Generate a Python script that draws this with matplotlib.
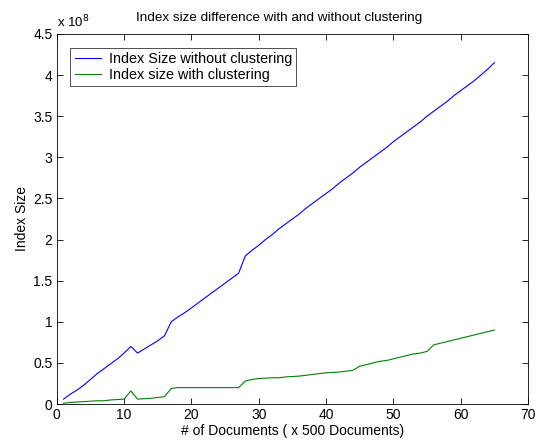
import numpy as np
import matplotlib
matplotlib.use('Agg')
import matplotlib.pyplot as plt
from matplotlib.ticker import FuncFormatter

# number of documents (x 500)
docs = np.arange(1, 66)

# index size in units of 1e8
size_no_clust = [0.06, 0.12, 0.17, 0.23, 0.30, 0.37, 0.43, 0.49, 0.55, 0.62,
                 0.70, 0.62, 0.67, 0.72, 0.77, 0.83, 1.00, 1.06, 1.11, 1.17,
                 1.23, 1.29, 1.35, 1.41, 1.47, 1.53, 1.59, 1.80, 1.87, 1.93,
                 2.00, 2.06, 2.13, 2.19, 2.25, 2.31, 2.38, 2.44, 2.50, 2.56,
                 2.62, 2.69, 2.75, 2.81, 2.88, 2.94, 3.00, 3.06, 3.12, 3.19,
                 3.25, 3.31, 3.37, 3.43, 3.50, 3.56, 3.62, 3.68, 3.75, 3.81,
                 3.87, 3.93, 4.00, 4.07, 4.15]
size_clust = [0.01, 0.02, 0.025, 0.03, 0.035, 0.04, 0.04, 0.05, 0.055, 0.06,
              0.16, 0.06, 0.065, 0.07, 0.08, 0.09, 0.19, 0.20, 0.20, 0.20,
              0.20, 0.20, 0.20, 0.20, 0.20, 0.20, 0.20, 0.28, 0.30, 0.31,
              0.315, 0.32, 0.32, 0.33, 0.335, 0.34, 0.35, 0.36, 0.37, 0.38,
              0.385, 0.39, 0.40, 0.41, 0.46, 0.48, 0.50, 0.52, 0.53, 0.55,
              0.57, 0.59, 0.61, 0.62, 0.64, 0.72, 0.74, 0.76, 0.78, 0.80,
              0.82, 0.84, 0.86, 0.88, 0.90]

plt.rcParams['font.family'] = ['Liberation Sans', 'DejaVu Sans']
plt.rcParams['font.size'] = 10

fig = plt.figure(figsize=(5.46, 4.46), dpi=100)
ax = fig.add_axes([0.104, 0.094, 0.863, 0.83])

ax.plot(docs, size_no_clust, color=(0, 0, 1), lw=0.8, label='Index Size without clustering')
ax.plot(docs, size_clust, color=(0, 0.5, 0), lw=0.8, label='Index size with clustering')

ax.set_xlim(0, 70)
ax.set_ylim(0, 4.5)
ax.set_xticks(range(0, 71, 10))
ax.set_yticks(np.arange(0, 4.51, 0.5))
ax.yaxis.set_major_formatter(FuncFormatter(lambda v, p: f'{v:g}'))
ax.tick_params(direction='in', top=True, right=True, length=4, width=0.6,
               labelsize=10, pad=3)
for s in ax.spines.values():
    s.set_linewidth(0.6)

ax.set_title('Index size difference with and without clustering', fontsize=9.7, pad=9, x=0.472)
ax.set_xlabel('# of Documents ( x 500 Documents)', fontsize=10, labelpad=1)
ax.set_ylabel('Index Size', fontsize=10, labelpad=3)
ax.text(0.0, 1.01, r'x 10$^{8}$', transform=ax.transAxes, fontsize=9.5, ha='left', va='bottom')

leg = ax.legend(loc='upper left', fancybox=False, edgecolor='black', fontsize=10.4,
                handlelength=1.8, handletextpad=0.55, borderpad=0.3, labelspacing=0.12,
                borderaxespad=0, bbox_to_anchor=(0.029, 0.962))
leg.get_frame().set_linewidth(0.6)

plt.savefig('out.png', dpi=100)
